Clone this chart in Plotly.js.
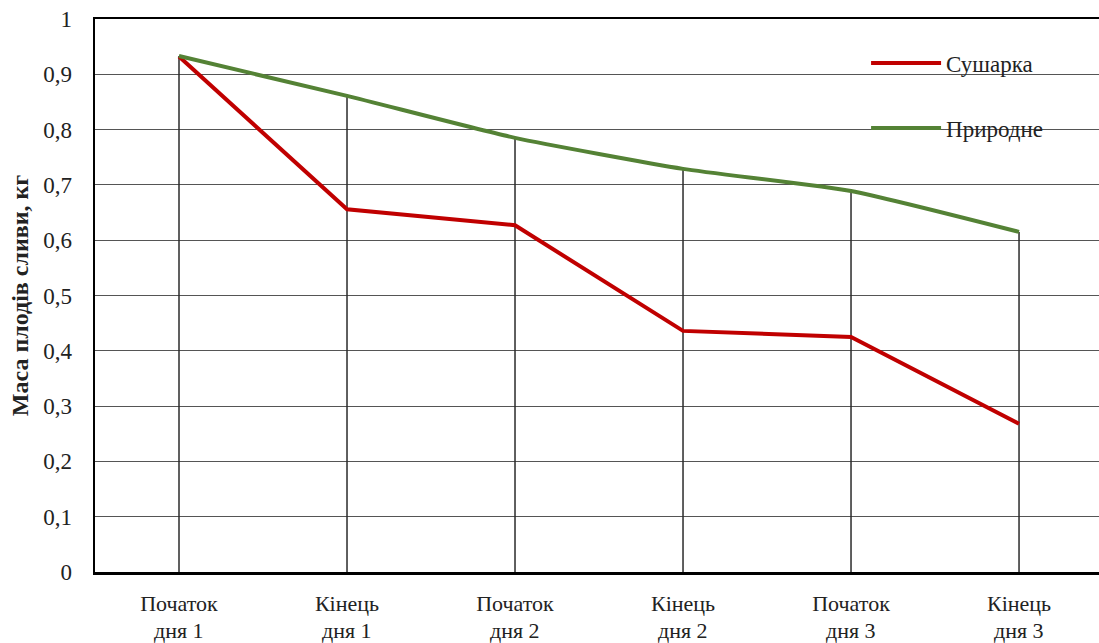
<!DOCTYPE html>
<html>
<head>
<meta charset="utf-8">
<script src="https://cdn.plot.ly/plotly-3.0.1.min.js"></script>
<style>html,body{margin:0;padding:0;background:#fff;}#chart{width:1099px;height:643px;}</style>
</head>
<body>
<div id="chart"></div>
<script>
const categoryLine1 = ["Початок", "Кінець", "Початок", "Кінець", "Початок", "Кінець"];
const categoryLine2 = ["дня 1", "дня 1", "дня 2", "дня 2", "дня 3", "дня 3"];
const dryerValues = [0.932, 0.656, 0.627, 0.436, 0.425, 0.268];
const naturalValues = [0.933, 0.861, 0.785, 0.729, 0.689, 0.615];
const seriesNames = ["Сушарка", "Природне"];
const yTickValues = [0, 0.1, 0.2, 0.3, 0.4, 0.5, 0.6, 0.7, 0.8, 0.9, 1];
const yTitle = "Маса плодів сливи, кг";

const font = "'Liberation Serif', 'Times New Roman', serif";
const idx = categoryLine1.map((_, i) => i);

const traces = [
  {x: idx, y: dryerValues, name: seriesNames[0], type: "scatter", mode: "lines",
   line: {color: "#c00000", width: 4}, legendgroup: "a"},
  {x: idx, y: naturalValues, name: seriesNames[1], type: "scatter", mode: "lines",
   line: {color: "#548235", width: 4, shape: "spline", smoothing: 0.5}, legendgroup: "b"}
];

const shapes = idx.map(i => ({
  type: "line", xref: "x", yref: "y", x0: i, x1: i, y0: 0,
  y1: Math.max(dryerValues[i], naturalValues[i]),
  line: {color: "#2b2b2b", width: 1.5}, layer: "between"
}));
shapes.push({type: "rect", xref: "paper", yref: "paper", x0: 0.737, x1: 0.989, y0: 0.76, y1: 0.975,
  fillcolor: "#fff", line: {width: 0}, layer: "between"});

const annotations = idx.map(i => ({
  xref: "x", yref: "paper", x: i, y: -0.105, yanchor: "middle", xanchor: "center",
  text: categoryLine2[i], showarrow: false, font: {family: font, size: 22, color: "#222"}
}));

const layout = {
  width: 1099, height: 643,
  margin: {l: 95, r: 0, t: 19, b: 71},
  paper_bgcolor: "#fff", plot_bgcolor: "#fff",
  font: {family: font, color: "#222", size: 22},
  showlegend: true,
  legend: {x: 0.768, xanchor: "left", y: 0.959, yanchor: "top", bgcolor: "rgba(0,0,0,0)",
           borderwidth: 0, font: {family: font, size: 23, color: "#222"},
           tracegroupgap: 32, itemwidth: 70, traceorder: "grouped"},
  xaxis: {
    range: [-0.5, 5.476], tickmode: "array", tickvals: idx, ticktext: categoryLine1,
    showgrid: false, zeroline: false, showline: true, linecolor: "#000", linewidth: 2.5,
    mirror: true, ticks: "", ticklabelstandoff: 10, tickfont: {family: font, size: 22, color: "#222"}
  },
  yaxis: {
    range: [0, 1], tickmode: "array", tickvals: yTickValues,
    showgrid: true, gridcolor: "#555", gridwidth: 1, zeroline: false,
    showline: true, linecolor: "#000", linewidth: 2.5, mirror: false, ticks: "",
    ticklabelstandoff: 16, tickfont: {family: font, size: 23, color: "#222"},
    title: {text: "<b>" + yTitle + "</b>", font: {family: font, size: 24, color: "#222"}, standoff: 8}
  },
  separators: ", ",
  shapes: shapes,
  annotations: annotations
};

Plotly.newPlot("chart", traces, layout, {displayModeBar: false, staticPlot: true});
</script>
</body>
</html>
